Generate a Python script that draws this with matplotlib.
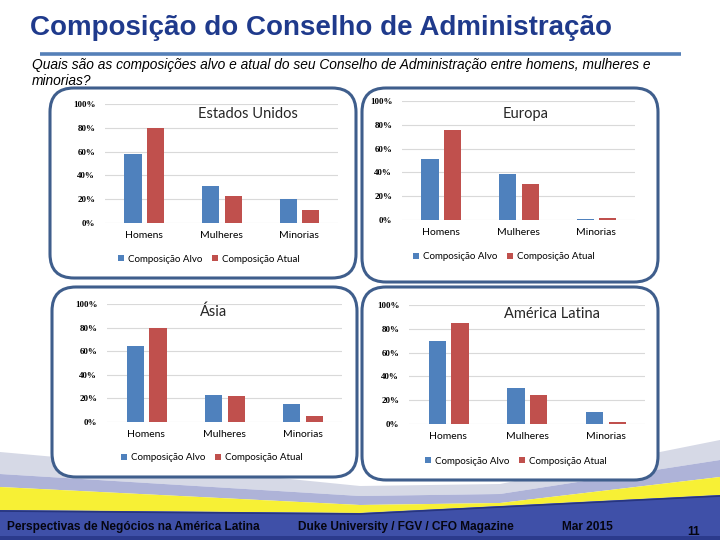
import matplotlib
matplotlib.use('Agg')
import matplotlib.pyplot as plt
from matplotlib.patches import FancyBboxPatch, Polygon, Patch

# ---- data ----
categories = ['Homens', 'Mulheres', 'Minorias']
series_names = ['Composição Alvo', 'Composição Atual']
yticks = [0, 20, 40, 60, 80, 100]
ytick_labels = ['0%', '20%', '40%', '60%', '80%', '100%']

us_alvo = [58, 31, 20]
us_atual = [80, 23, 11]
eu_alvo = [51, 39, 1]
eu_atual = [76, 30, 2]
asia_alvo = [64, 23, 15]
asia_atual = [80, 22, 5]
la_alvo = [70, 30, 10]
la_atual = [85, 24, 2]

BLUE = '#4F81BD'
RED = '#C0504D'
W, H = 720, 540

fig = plt.figure(figsize=(7.2, 5.4), dpi=100)

# background axes in pixel units (y down)
bg = fig.add_axes([0, 0, 1, 1])
bg.set_xlim(0, W)
bg.set_ylim(H, 0)
bg.axis('off')

### slide decoration ###

# swoosh at the bottom
bg.add_patch(Polygon([(0, 452), (200, 470), (360, 486), (500, 484), (720, 440),
                      (720, 460), (500, 494), (360, 496), (0, 474)],
                     closed=True, fc='#D6D9E6', ec='none'))
bg.add_patch(Polygon([(0, 474), (360, 496), (500, 494), (720, 460),
                      (720, 477), (500, 503), (360, 505), (0, 487)],
                     closed=True, fc='#AEB3D8', ec='none'))
bg.add_patch(Polygon([(0, 487), (360, 505), (500, 503), (720, 477),
                      (720, 495), (360, 513), (0, 510)],
                     closed=True, fc='#F7F035', ec='none'))
bg.add_patch(Polygon([(0, 510), (360, 513), (720, 495), (720, 540), (0, 540)],
                     closed=True, fc='#3F50A8', ec='none'))
bg.add_patch(Polygon([(0, 536), (720, 536), (720, 540), (0, 540)],
                     closed=True, fc='#2B3A8C', ec='none'))
bg.plot([0, 360, 720], [511, 514, 496], color='#27357F', lw=1.2)

# title and rule
bg.text(30, 28, 'Composição do Conselho de Administração', fontsize=20,
        fontweight='bold', color='#1F3A8C', family='Liberation Sans',
        ha='left', va='center')
bg.plot([40, 681], [54, 54], color='#5580B8', lw=2.6, solid_capstyle='butt')
bg.text(32, 65, 'Quais são as composições alvo e atual do seu Conselho de '
        'Administração entre homens, mulheres e', fontsize=9.9,
        style='italic', family='Liberation Sans', ha='left', va='center')
bg.text(32, 81, 'minorias?', fontsize=9.9, style='italic',
        family='Liberation Sans', ha='left', va='center')

# footer
foot_kw = dict(fontsize=8.6, fontweight='bold', family='Liberation Sans',
               color='#050510', va='center')
bg.text(7, 527, 'Perspectivas de Negócios na América Latina', ha='left', **foot_kw)
bg.text(298, 527, 'Duke University / FGV / CFO Magazine', ha='left', **foot_kw)
bg.text(562, 527, 'Mar 2015', ha='left', **foot_kw)
bg.text(694, 532, '11', ha='center', **foot_kw)

### chart panels ###

panels = [
    # title, alvo, atual, (x0, x1, y100, y0), box (x0, y0, x1, y1), title xy, legend xy
    ('Estados Unidos', us_alvo, us_atual, (105, 338, 104, 223),
     (50, 88, 356, 278), (248, 114), (209, 259)),
    ('Europa', eu_alvo, eu_atual, (402, 635, 101, 220),
     (362, 88, 658, 282), (526, 114), (504, 257)),
    ('Ásia', asia_alvo, asia_atual, (107, 342, 304, 422),
     (52, 287, 357, 477), (214, 312), (212, 458)),
    ('América Latina', la_alvo, la_atual, (409, 645, 305, 424),
     (362, 287, 658, 480), (552, 314), (516, 461)),
]

handles = [Patch(fc=BLUE, ec='none'), Patch(fc=RED, ec='none')]
xs = list(range(len(categories)))
bar_w = 0.22

for title, alvo, atual, (ax0, ax1, y100, y0), (bx0, by0, bx1, by1), tpos, lpos in panels:
    # rounded frame
    bg.add_patch(FancyBboxPatch((bx0, by0), bx1 - bx0, by1 - by0,
                                boxstyle='round,pad=0,rounding_size=24',
                                fc='white', ec='#3F5E8C', lw=2.2))
    ax = fig.add_axes([ax0 / W, 1 - y0 / H, (ax1 - ax0) / W, (y0 - y100) / H])
    ax.patch.set_alpha(0)
    ax.bar([x - 0.14 for x in xs], alvo, width=bar_w, color=BLUE, zorder=3)
    ax.bar([x + 0.15 for x in xs], atual, width=bar_w, color=RED, zorder=3)
    ax.set_xlim(-0.5, 2.5)
    ax.set_ylim(0, 100)
    ax.set_yticks(yticks)
    ax.set_yticklabels(ytick_labels, fontsize=6.5, fontweight='bold',
                       family='Liberation Serif')
    ax.set_xticks(xs)
    ax.set_xticklabels(categories, fontsize=7.5, family='Lato')
    ax.tick_params(axis='both', length=0)
    ax.tick_params(axis='y', pad=7)
    ax.tick_params(axis='x', pad=6)
    ax.grid(axis='y', color='#D9D9D9', lw=0.8, zorder=0)
    ax.set_axisbelow(True)
    for s in ax.spines.values():
        s.set_visible(False)
    fig.text(tpos[0] / W, 1 - tpos[1] / H, title, fontsize=10.5, family='Lato',
             color='#262626', ha='center', va='center', zorder=5)
    ax.legend(handles, series_names, loc='center', ncol=2, frameon=False,
              bbox_to_anchor=(lpos[0] / W, 1 - lpos[1] / H),
              bbox_transform=fig.transFigure, prop={'family': 'Lato', 'size': 7},
              handlelength=0.6, handleheight=0.6, handletextpad=0.4,
              columnspacing=1.0, borderpad=0)

fig.savefig('out.png', dpi=100)
